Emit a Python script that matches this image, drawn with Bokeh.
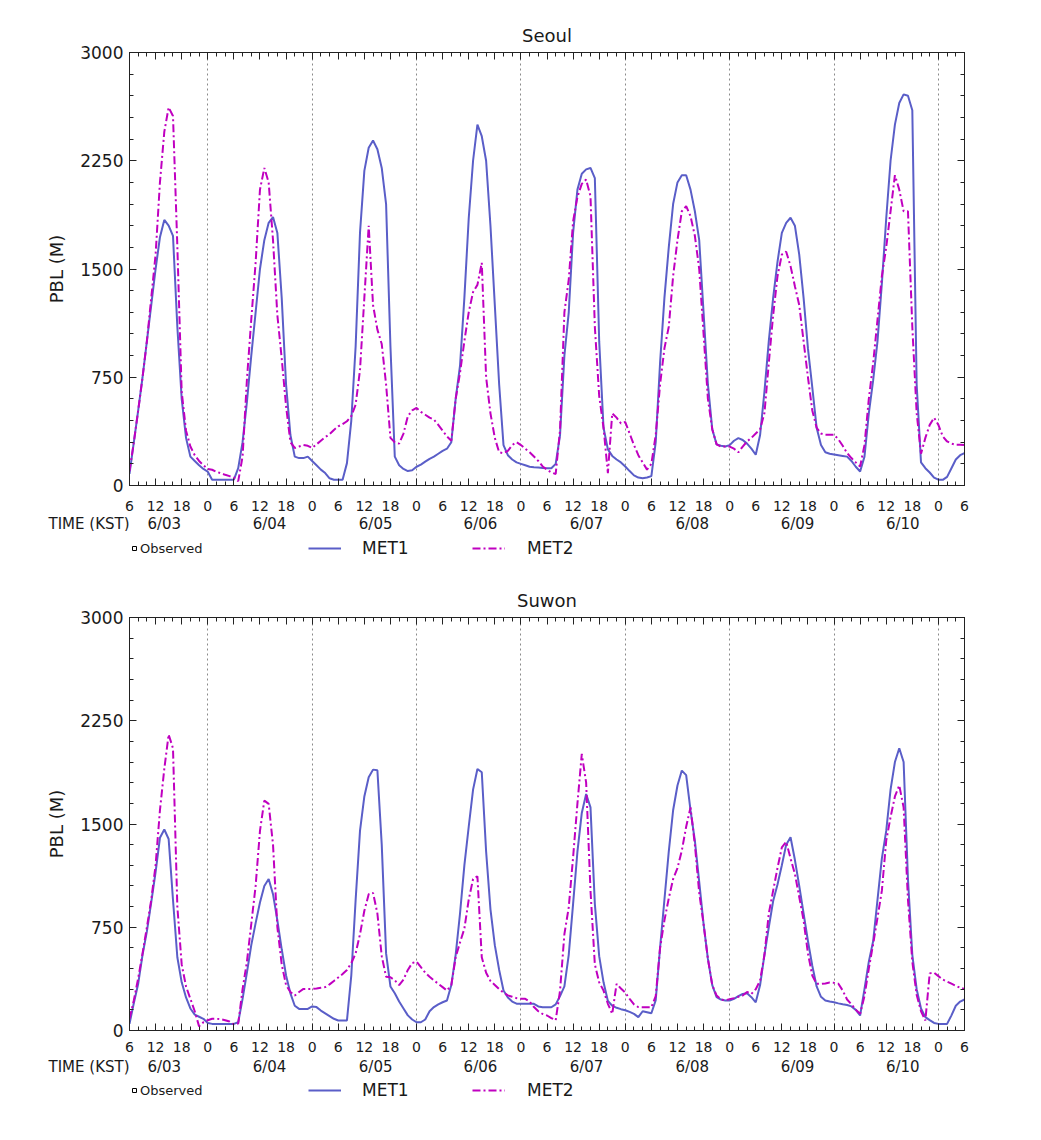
from bokeh.plotting import figure
from bokeh.models import (Range1d, FixedTicker, LinearAxis, Legend, LegendItem,
                          CustomJSTickFormatter, Grid)
from bokeh.core.properties import value
from bokeh.layouts import column
from bokeh.embed import file_html
from bokeh.resources import INLINE

# ---------------- data ----------------
# hourly values, hour 0 = 6/03 06 KST ... hour 192 = 6/11 06 KST
hours = list(range(193))

hour_ticks = list(range(0, 193, 6))
hour_labels = ["6", "12", "18", "0"] * 8 + ["6"]
hour_minor_ticks = list(range(0, 193, 2))
midnight_hours = [18, 42, 66, 90, 114, 138, 162, 186]
date_tick_hours = [8.0, 32.2, 56.6, 80.7, 105.1, 129.4, 153.6, 177.8]
date_labels = ["6/03", "6/04", "6/05", "6/06", "6/07", "6/08", "6/09", "6/10"]
pbl_ticks = [0, 750, 1500, 2250, 3000]
pbl_minor_ticks = list(range(0, 3001, 150))

observed_hours = []
observed_pbl = []

seoul_met1 = [
    80, 300, 520, 750, 1000, 1250, 1500, 1720, 1840, 1800, 1730, 1100,
    600, 330, 200, 170, 140, 115, 95, 40, 40, 40, 40, 40,
    40, 120, 300, 580, 900, 1200, 1500, 1700, 1820, 1860, 1750, 1300,
    700, 350, 200, 190, 190, 200, 170, 140, 110, 86, 50, 40,
    40, 40, 155, 450, 965, 1750, 2180, 2340, 2390, 2330, 2200, 1950,
    965, 200, 140, 115, 100, 105, 130, 145, 165, 185, 200, 220,
    240, 255, 300, 600, 830, 1300, 1850, 2250, 2500, 2420, 2250, 1800,
    1250, 700, 280, 210, 180, 160, 150, 140, 130, 127, 125, 122,
    120, 120, 150, 350, 900, 1200, 1750, 2050, 2160, 2190, 2200, 2130,
    1000, 400, 250, 205, 180, 160, 132, 100, 70, 55, 50, 55,
    65, 300, 850, 1300, 1650, 1950, 2100, 2150, 2150, 2050, 1900, 1700,
    1200, 700, 390, 285, 275, 270, 280, 310, 328, 315, 290, 255,
    213, 350, 650, 1000, 1300, 1550, 1750, 1820, 1855, 1800, 1600, 1300,
    950, 680, 400, 280, 230, 220, 215, 210, 205, 200, 170, 130,
    97, 200, 500, 730, 1000, 1400, 1850, 2250, 2500, 2650, 2710, 2700,
    2600, 700, 160, 120, 90, 55, 40, 39, 60, 120, 180, 210, 225,
]

seoul_met2 = [
    100, 300, 520, 750, 1000, 1300, 1600, 2100, 2450, 2620, 2560, 1658,
    650, 380, 270, 210, 170, 140, 115, 109, 95, 85, 74, 65,
    55, 30, 200, 733, 1150, 1543, 2050, 2200, 2100, 1700, 1180, 880,
    550, 300, 260, 270, 280, 275, 260, 285, 310, 335, 355, 385,
    410, 425, 445, 480, 560, 800, 1300, 1800, 1250, 1080, 980, 700,
    330, 300, 290, 360, 480, 520, 537, 510, 490, 470, 456, 420,
    380, 340, 310, 600, 780, 1000, 1200, 1340, 1390, 1543, 750, 500,
    330, 230, 224, 240, 280, 300, 280, 255, 230, 201, 170, 132,
    110, 90, 80, 386, 1200, 1427, 1830, 2000, 2090, 2120, 2005, 1100,
    620, 400, 86, 500, 470, 430, 440, 360, 280, 210, 160, 110,
    150, 350, 700, 950, 1100, 1450, 1700, 1900, 1936, 1866, 1730, 1500,
    1050, 600, 390, 285, 270, 270, 270, 255, 230, 270, 305, 330,
    360, 390, 502, 849, 1180, 1450, 1600, 1620, 1520, 1381, 1250, 1000,
    750, 520, 400, 360, 352, 352, 352, 320, 275, 225, 190, 160,
    132, 280, 600, 849, 1150, 1450, 1650, 1900, 2150, 2050, 1900, 1900,
    1100, 502, 220, 330, 420, 470, 420, 340, 305, 290, 282, 282, 280,
]

suwon_met1 = [
    48, 200, 340, 550, 720, 930, 1150, 1400, 1460, 1391, 950, 532,
    350, 240, 160, 115, 100, 85, 55, 48, 48, 48, 48, 48,
    48, 60, 230, 420, 620, 780, 930, 1050, 1100, 990, 800, 590,
    400, 270, 180, 157, 157, 157, 175, 170, 145, 125, 105, 85,
    73, 73, 73, 400, 950, 1450, 1700, 1839, 1895, 1890, 1350, 560,
    320, 270, 210, 160, 110, 80, 60, 60, 80, 140, 170, 190,
    205, 218, 330, 550, 850, 1200, 1480, 1750, 1900, 1876, 1300, 880,
    620, 440, 290, 240, 210, 195, 194, 194, 194, 194, 175, 169,
    169, 169, 190, 250, 320, 550, 920, 1300, 1580, 1718, 1621, 920,
    540, 350, 215, 180, 165, 155, 147, 135, 121, 97, 140, 133,
    125, 220, 600, 950, 1300, 1600, 1780, 1888, 1855, 1600, 1380, 1080,
    774, 520, 330, 242, 225, 218, 218, 230, 250, 265, 270, 242,
    205, 330, 550, 750, 940, 1060, 1200, 1350, 1404, 1240, 1050, 850,
    650, 470, 320, 245, 218, 210, 205, 197, 190, 185, 175, 150,
    109, 300, 500, 650, 950, 1250, 1450, 1750, 1950, 2050, 1950, 1100,
    550, 300, 160, 97, 75, 55, 48, 48, 48, 110, 180, 210, 225,
]

suwon_met2 = [
    85, 220, 380, 560, 750, 950, 1200, 1600, 1900, 2150, 2050, 900,
    480, 320, 230, 140, 30, 60, 75, 85, 85, 82, 75, 65,
    45, 50, 300, 500, 774, 1050, 1450, 1670, 1646, 1350, 750, 480,
    330, 280, 254, 280, 302, 302, 302, 305, 310, 315, 335, 360,
    385, 410, 440, 490, 560, 700, 870, 990, 1000, 850, 540, 390,
    387, 365, 330, 370, 440, 490, 500, 460, 420, 390, 363, 340,
    315, 290, 330, 532, 640, 740, 950, 1100, 1120, 532, 420, 360,
    330, 300, 275, 255, 245, 235, 230, 230, 210, 170, 140, 120,
    109, 90, 75, 290, 700, 895, 1258, 1650, 2009, 1800, 1016, 480,
    350, 290, 194, 121, 339, 305, 275, 230, 190, 170, 169, 169,
    169, 250, 600, 800, 960, 1100, 1180, 1307, 1480, 1620, 1350, 1000,
    774, 520, 330, 254, 225, 220, 228, 235, 245, 254, 280, 266,
    300, 363, 550, 850, 1016, 1180, 1330, 1370, 1250, 1137, 970, 800,
    560, 400, 339, 339, 342, 348, 346, 340, 290, 225, 190, 150,
    121, 250, 450, 629, 820, 1016, 1379, 1550, 1700, 1780, 1621, 950,
    500, 260, 140, 73, 415, 420, 395, 370, 355, 340, 325, 310, 302,
]

# ---------------- style / layout ----------------
FONT = "DejaVu Sans"
TXT = "#1a1a1a"
MET1_COLOR = "#5a5ec8"
MET2_COLOR = "#c000c0"
AX = "#222222"
MET2_DASH = "8 3 2 3"

FIG_W = 994
FRAME_LEFT = 129
FRAME_RIGHT_BORDER = 30


def lookup_formatter(ticks, labels):
    return CustomJSTickFormatter(
        args=dict(tk=ticks, lb=labels),
        code="""
        for (let i = 0; i < tk.length; i++) {
            if (Math.abs(tk[i] - tick) < 1e-6) { return lb[i]; }
        }
        return '';
        """)


def blank_formatter():
    return CustomJSTickFormatter(code="return '';")


def style_ticks(ax):
    ax.major_tick_in = 7
    ax.major_tick_out = 0
    ax.minor_tick_in = 4
    ax.minor_tick_out = 0
    ax.axis_line_color = AX
    ax.major_tick_line_color = AX
    ax.minor_tick_line_color = AX
    ax.major_label_text_font = FONT
    ax.major_label_text_color = TXT


def base_fig(height, top=0, bottom=0, title=None, y_range=(0, 1)):
    return figure(width=FIG_W, height=height, output_backend="svg", toolbar_location=None,
                  x_range=Range1d(0, 192), y_range=Range1d(*y_range),
                  x_axis_type=None, y_axis_type=None,
                  min_border_left=FRAME_LEFT, min_border_right=FRAME_RIGHT_BORDER,
                  min_border_top=top, min_border_bottom=bottom, title=title)


def make_main(title, met1, met2, top, frame_h, bottom, hour_standoff):
    p = base_fig(top + frame_h + bottom, top, bottom, title, (0, 3000))
    p.title.text_font = FONT
    p.title.text_font_size = "18px"
    p.title.text_font_style = "normal"
    p.title.text_color = TXT
    p.title.align = "center"
    p.title.standoff = 13
    p.outline_line_color = AX
    p.outline_line_width = 1

    p.add_layout(Grid(dimension=0, ticker=FixedTicker(ticks=midnight_hours),
                      grid_line_color="#8a8a8a", grid_line_dash="2 3", grid_line_width=1))

    xb = LinearAxis(ticker=FixedTicker(ticks=hour_ticks, minor_ticks=hour_minor_ticks),
                    formatter=lookup_formatter(hour_ticks, hour_labels))
    style_ticks(xb)
    xb.major_label_text_font_size = "14px"
    xb.major_label_standoff = hour_standoff
    p.add_layout(xb, "below")

    xt = LinearAxis(ticker=FixedTicker(ticks=hour_ticks, minor_ticks=hour_minor_ticks),
                    formatter=blank_formatter())
    style_ticks(xt)
    xt.major_label_standoff = 0
    xt.major_label_text_font_size = "2px"
    p.add_layout(xt, "above")

    yl = LinearAxis(ticker=FixedTicker(ticks=pbl_ticks, minor_ticks=pbl_minor_ticks),
                    axis_label="PBL (M)")
    style_ticks(yl)
    yl.major_label_text_font_size = "17px"
    yl.major_label_standoff = 6
    yl.axis_label_text_font = FONT
    yl.axis_label_text_font_size = "18px"
    yl.axis_label_text_font_style = "normal"
    yl.axis_label_text_color = TXT
    yl.axis_label_standoff = 10
    p.add_layout(yl, "left")

    yr = LinearAxis(ticker=FixedTicker(ticks=pbl_ticks, minor_ticks=pbl_minor_ticks),
                    formatter=blank_formatter())
    style_ticks(yr)
    yr.major_label_standoff = 0
    yr.major_label_text_font_size = "2px"
    p.add_layout(yr, "right")

    p.line(hours, met1, line_color=MET1_COLOR, line_width=2)
    p.line(hours, met2, line_color=MET2_COLOR, line_width=2, line_dash=MET2_DASH)
    return p


def make_date_row(height):
    """Date labels under the hour labels, with 'TIME (KST)' at the left."""
    s = base_fig(height)
    s.outline_line_color = None
    s.text(x=date_tick_hours, y=[0.5] * len(date_tick_hours), text=date_labels,
           text_font=value(FONT), text_font_size="15px", text_color=TXT,
           text_align="center", text_baseline="middle")
    ya = LinearAxis(ticker=FixedTicker(ticks=[]), axis_label="TIME (KST)")
    ya.axis_line_color = None
    ya.major_tick_line_color = None
    ya.minor_tick_line_color = None
    ya.major_tick_in = 0
    ya.major_tick_out = 0
    ya.minor_tick_in = 0
    ya.minor_tick_out = 0
    ya.major_label_standoff = 0
    ya.major_label_text_font_size = "2px"
    ya.axis_label_orientation = "horizontal"
    ya.axis_label_standoff = 0
    ya.axis_label_text_font = FONT
    ya.axis_label_text_font_size = "15px"
    ya.axis_label_text_font_style = "normal"
    ya.axis_label_text_color = TXT
    s.add_layout(ya, "left")
    return s


def make_legend_row(height, met1, met2, legend_from_top):
    s = base_fig(height)
    s.outline_line_color = None
    # hidden proxies that give the legend its glyphs
    r_obs = s.scatter(hours, met1, marker="square", size=6, fill_color=None,
                      line_color="black", visible=False)
    r1 = s.line(hours, met1, line_color=MET1_COLOR, line_width=2, visible=False)
    r2 = s.line(hours, met2, line_color=MET2_COLOR, line_width=2,
                line_dash=MET2_DASH, visible=False)
    r_obs_real = s.scatter(observed_hours, observed_pbl, marker="square", size=6,
                           fill_color=None, line_color="black")

    leg_y = height - legend_from_top - 10

    def add_leg(item, x, font_size, glyph_w, standoff):
        lg = Legend(items=[item], location=(x, leg_y),
                    orientation="horizontal", glyph_width=glyph_w, glyph_height=20,
                    label_height=20, label_standoff=standoff, padding=0, margin=0,
                    spacing=0, border_line_color=None, background_fill_alpha=0,
                    inactive_fill_alpha=0,
                    label_text_font=FONT, label_text_font_size=font_size,
                    label_text_color=TXT)
        s.add_layout(lg)

    add_leg(LegendItem(label="Observed", renderers=[r_obs, r_obs_real]), 0, "13px", 10, 1)
    add_leg(LegendItem(label="MET1", renderers=[r1]), 179, "17px", 33, 21)
    add_leg(LegendItem(label="MET2", renderers=[r2]), 343, "17px", 33, 22)
    return s


p1 = make_main("Seoul", seoul_met1, seoul_met2, 52, 433, 30, 15)
d1 = make_date_row(16)
l1 = make_legend_row(47, seoul_met1, seoul_met2, 17)
p2 = make_main("Suwon", suwon_met1, suwon_met2, 39, 413, 26, 11)
d2 = make_date_row(20)
l2 = make_legend_row(36, suwon_met1, suwon_met2, 14)

layout = column(p1, d1, l1, p2, d2, l2, spacing=0)
open("out.html", "w").write(file_html(layout, INLINE))
